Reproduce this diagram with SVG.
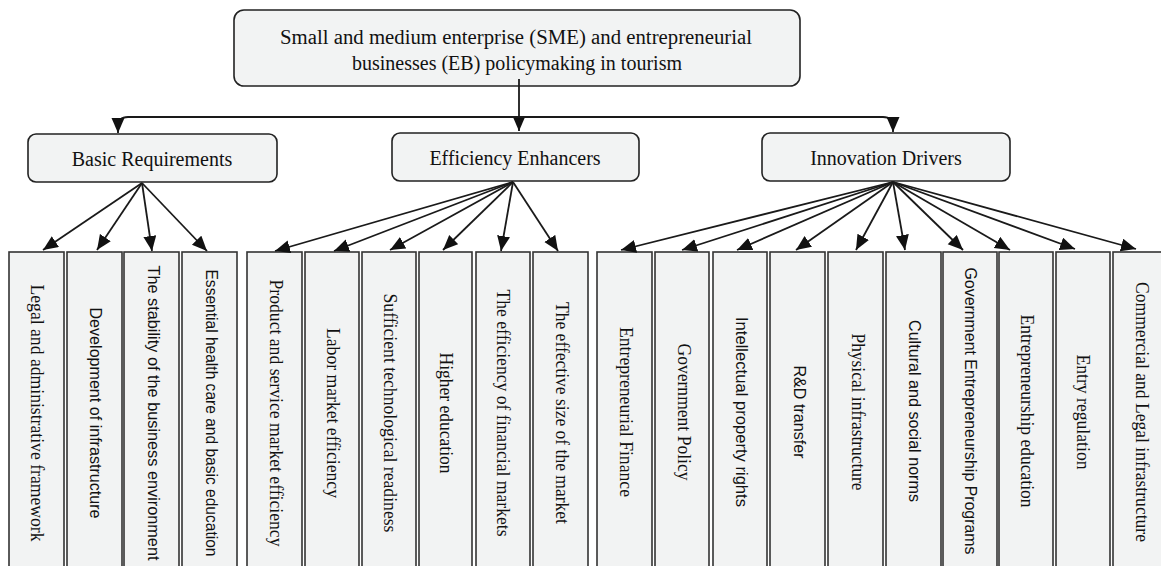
<svg xmlns="http://www.w3.org/2000/svg" width="1161" height="566" viewBox="0 0 1161 566">
<style>
.rbox{fill:#f2f3f3;stroke:#222;stroke-width:1.6}
.col{fill:#f2f3f3;stroke:#333;stroke-width:1.6}
.t{font-family:"Liberation Serif","Times New Roman",serif;fill:#111}
.ts{font-family:"Liberation Sans",Arial,sans-serif;fill:#111}
.h{font-size:20px;text-anchor:middle}
.v{font-size:18px;text-anchor:middle;dominant-baseline:central}
.vs{font-size:16px;text-anchor:middle;dominant-baseline:central}
.c{fill:none;stroke:#1a1a1a;stroke-width:1.8}
</style>
<defs>
<marker id="ah" markerUnits="userSpaceOnUse" markerWidth="16" markerHeight="14" refX="15" refY="6.5" orient="auto">
<path d="M0,0 L15,6.5 L0,13 z" fill="#111"/>
</marker>
</defs>
<rect width="1161" height="566" fill="#fff"/>
<g id="root">
<rect class="rbox" x="234" y="10" width="566" height="76" rx="10"/>
<text class="t h" x="516" y="44" textLength="472" lengthAdjust="spacingAndGlyphs">Small and medium enterprise (SME) and entrepreneurial</text>
<text class="t h" x="517" y="70">businesses (EB) policymaking in tourism</text>
</g>
<g id="basic">
<rect class="rbox" x="28" y="134" width="249" height="48" rx="8"/>
<text class="t h" x="152" y="166">Basic Requirements</text>
</g>
<g id="efficiency">
<rect class="rbox" x="392" y="133" width="247" height="48" rx="8"/>
<text class="t h" x="515" y="165">Efficiency Enhancers</text>
</g>
<g id="innovation">
<rect class="rbox" x="762" y="133" width="248" height="48" rx="8"/>
<text class="t h" x="886" y="165">Innovation Drivers</text>
</g>
<g id="b1"><rect class="col" x="9" y="252" width="55" height="330"/><text class="t v" transform="translate(37,413) rotate(90)" textLength="257" lengthAdjust="spacingAndGlyphs">Legal and administrative framework</text></g>
<g id="b2"><rect class="col" x="67" y="252" width="55" height="330"/><text class="ts vs" transform="translate(95,413) rotate(90)" textLength="211" lengthAdjust="spacingAndGlyphs">Development of infrastructure</text></g>
<g id="b3"><rect class="col" x="124" y="252" width="55" height="330"/><text class="ts vs" transform="translate(153,413) rotate(90)" textLength="295" lengthAdjust="spacingAndGlyphs">The stability of the business environment</text></g>
<g id="b4"><rect class="col" x="182" y="252" width="55" height="330"/><text class="ts vs" transform="translate(211,413) rotate(90)" textLength="287" lengthAdjust="spacingAndGlyphs">Essential health care and basic education</text></g>
<g id="e1"><rect class="col" x="247" y="252" width="55" height="330"/><text class="t v" transform="translate(276,413) rotate(90)" textLength="267" lengthAdjust="spacingAndGlyphs">Product and service market efficiency</text></g>
<g id="e2"><rect class="col" x="305" y="252" width="54" height="330"/><text class="t v" transform="translate(333,413) rotate(90)" textLength="170" lengthAdjust="spacingAndGlyphs">Labor market efficiency</text></g>
<g id="e3"><rect class="col" x="362" y="252" width="54" height="330"/><text class="t v" transform="translate(390,413) rotate(90)" textLength="239" lengthAdjust="spacingAndGlyphs">Sufficient technological readiness</text></g>
<g id="e4"><rect class="col" x="419" y="252" width="53" height="330"/><text class="t v" transform="translate(446,413) rotate(90)" textLength="121" lengthAdjust="spacingAndGlyphs">Higher education</text></g>
<g id="e5"><rect class="col" x="476" y="252" width="54" height="330"/><text class="t v" transform="translate(503,413) rotate(90)" textLength="247" lengthAdjust="spacingAndGlyphs">The efficiency of financial markets</text></g>
<g id="e6"><rect class="col" x="533" y="252" width="55" height="330"/><text class="t v" transform="translate(562,413) rotate(90)" textLength="222" lengthAdjust="spacingAndGlyphs">The effective size of the market</text></g>
<g id="i1"><rect class="col" x="597" y="252" width="55" height="330"/><text class="t v" transform="translate(626,412) rotate(90)" textLength="170" lengthAdjust="spacingAndGlyphs">Entrepreneurial Finance</text></g>
<g id="i2"><rect class="col" x="655" y="252" width="54" height="330"/><text class="t v" transform="translate(684,412) rotate(90)" textLength="137" lengthAdjust="spacingAndGlyphs">Government Policy</text></g>
<g id="i3"><rect class="col" x="713" y="252" width="54" height="330"/><text class="ts vs" transform="translate(741,412) rotate(90)" textLength="190" lengthAdjust="spacingAndGlyphs">Intellectual property rights</text></g>
<g id="i4"><rect class="col" x="770" y="252" width="55" height="330"/><text class="ts vs" transform="translate(799,412) rotate(90)" textLength="93" lengthAdjust="spacingAndGlyphs">R&amp;D transfer</text></g>
<g id="i5"><rect class="col" x="828" y="252" width="55" height="330"/><text class="t v" transform="translate(858,412) rotate(90)" textLength="157" lengthAdjust="spacingAndGlyphs">Physical infrastructure</text></g>
<g id="i6"><rect class="col" x="886" y="252" width="55" height="330"/><text class="ts vs" transform="translate(914,411) rotate(90)" textLength="182" lengthAdjust="spacingAndGlyphs">Cultural and social norms</text></g>
<g id="i7"><rect class="col" x="943" y="252" width="54" height="330"/><text class="ts vs" transform="translate(970,411) rotate(90)" textLength="287" lengthAdjust="spacingAndGlyphs">Government Entrepreneurship Programs</text></g>
<g id="i8"><rect class="col" x="999" y="252" width="54" height="330"/><text class="t v" transform="translate(1027,411) rotate(90)" textLength="193" lengthAdjust="spacingAndGlyphs">Entrepreneurship education</text></g>
<g id="i9"><rect class="col" x="1056" y="252" width="54" height="330"/><text class="t v" transform="translate(1083,412) rotate(90)" textLength="115" lengthAdjust="spacingAndGlyphs">Entry regulation</text></g>
<g id="i10"><rect class="col" x="1113" y="252" width="55" height="330"/><text class="t v" transform="translate(1142,412) rotate(90)" textLength="260" lengthAdjust="spacingAndGlyphs">Commercial and Legal infrastructure</text></g>
<g id="connectors" class="c" marker-end="url(#ah)">
<path d="M519,79 V131"/>
<path d="M519,117 H128 Q118,117 118,127 V133"/>
<path d="M519,117 H883 Q893,117 893,127 V132"/>
<path d="M142,183 L43,250"/>
<path d="M142,183 L97,250"/>
<path d="M142,183 L152,251"/>
<path d="M142,183 L207,251"/>
<path d="M513,182 L275,251"/>
<path d="M513,182 L334,251"/>
<path d="M513,182 L390,250"/>
<path d="M513,182 L443,250"/>
<path d="M513,182 L501,251"/>
<path d="M513,182 L558,251"/>
<path d="M893,182 L621,250"/>
<path d="M893,182 L682,250"/>
<path d="M893,182 L737,250"/>
<path d="M893,182 L796,250"/>
<path d="M893,182 L856,250"/>
<path d="M893,182 L905,250"/>
<path d="M893,182 L963,250"/>
<path d="M893,182 L1010,250"/>
<path d="M893,182 L1075,249"/>
<path d="M893,182 L1136,249"/>
</g>
</svg>
